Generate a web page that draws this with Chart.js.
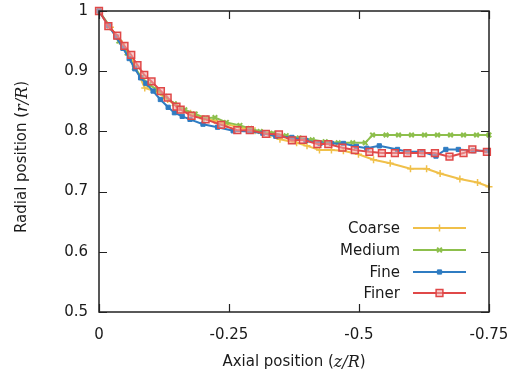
<!DOCTYPE html>
<html>
<head>
<meta charset="utf-8">
<script src="https://cdn.jsdelivr.net/npm/chart.js@4.4.1/dist/chart.umd.min.js"></script>
<style>
html,body{margin:0;padding:0;background:#fff;}
canvas{display:block;}
</style>
</head>
<body>
<canvas id="c" width="513" height="382"></canvas>
<script>
// ---- data ----
const seriesNames = ["Coarse", "Medium", "Fine", "Finer"];

const coarseX = [0, -0.022, -0.044, -0.066, -0.088, -0.110, -0.132, -0.154, -0.176, -0.200, -0.222, -0.246, -0.270, -0.300, -0.330, -0.348, -0.380, -0.400, -0.424, -0.447, -0.470, -0.499, -0.528, -0.560, -0.599, -0.630, -0.656, -0.694, -0.728, -0.750];
const coarseY = [1, 0.973, 0.946, 0.915, 0.872, 0.866, 0.853, 0.839, 0.830, 0.821, 0.818, 0.812, 0.807, 0.801, 0.795, 0.787, 0.781, 0.776, 0.769, 0.769, 0.768, 0.762, 0.753, 0.747, 0.738, 0.738, 0.730, 0.721, 0.715, 0.708];

const mediumX = [0, -0.020, -0.038, -0.054, -0.068, -0.082, -0.096, -0.112, -0.127, -0.145, -0.165, -0.185, -0.205, -0.223, -0.245, -0.271, -0.290, -0.310, -0.335, -0.360, -0.385, -0.410, -0.435, -0.460, -0.488, -0.512, -0.526, -0.552, -0.576, -0.601, -0.626, -0.651, -0.676, -0.701, -0.726, -0.750];
const mediumY = [1, 0.975, 0.950, 0.930, 0.906, 0.890, 0.878, 0.869, 0.858, 0.846, 0.836, 0.829, 0.822, 0.823, 0.815, 0.810, 0.805, 0.800, 0.797, 0.793, 0.789, 0.786, 0.783, 0.781, 0.781, 0.781, 0.794, 0.794, 0.794, 0.794, 0.794, 0.794, 0.794, 0.794, 0.794, 0.794];

const fineX = [0, -0.018, -0.033, -0.046, -0.058, -0.069, -0.080, -0.090, -0.104, -0.118, -0.133, -0.145, -0.160, -0.175, -0.200, -0.228, -0.258, -0.290, -0.315, -0.340, -0.371, -0.398, -0.425, -0.447, -0.470, -0.495, -0.515, -0.539, -0.574, -0.595, -0.622, -0.648, -0.667, -0.691, -0.720, -0.746];
const fineY = [1, 0.976, 0.957, 0.938, 0.921, 0.904, 0.889, 0.880, 0.867, 0.853, 0.840, 0.831, 0.825, 0.820, 0.812, 0.807, 0.801, 0.800, 0.797, 0.792, 0.790, 0.785, 0.780, 0.780, 0.780, 0.775, 0.772, 0.776, 0.770, 0.766, 0.766, 0.759, 0.770, 0.770, 0.768, 0.768];

const finerX = [0, -0.018, -0.035, -0.049, -0.062, -0.074, -0.087, -0.101, -0.119, -0.132, -0.149, -0.157, -0.178, -0.205, -0.235, -0.266, -0.290, -0.321, -0.346, -0.371, -0.392, -0.420, -0.441, -0.468, -0.492, -0.520, -0.544, -0.569, -0.593, -0.620, -0.646, -0.674, -0.701, -0.718, -0.746];
const finerY = [1, 0.975, 0.959, 0.942, 0.927, 0.910, 0.894, 0.883, 0.867, 0.856, 0.841, 0.836, 0.826, 0.820, 0.811, 0.802, 0.802, 0.796, 0.795, 0.785, 0.786, 0.779, 0.779, 0.773, 0.769, 0.766, 0.764, 0.764, 0.764, 0.764, 0.764, 0.758, 0.764, 0.770, 0.766];

const xTicks = [0, -0.25, -0.5, -0.75];
const xTickLabels = ["0", "-0.25", "-0.5", "-0.75"];
const yTicks = [0.5, 0.6, 0.7, 0.8, 0.9, 1];
const yTickLabels = ["0.5", "0.6", "0.7", "0.8", "0.9", "1"];

// ---- build ----
function pts(xs, ys){ return xs.map((x,i)=>({x:x, y:ys[i]})); }

const FONT = "'DejaVu Sans', sans-serif";
const TEXT = "#1a1a1a";

const styles = [
  {color:"#f0c04a", ps:"cross", r:3.5, bg:"#f0c04a", bw:1.5, order:4},
  {color:"#8dbf4c", ps:"crossRot", r:3.2, bg:"#8dbf4c", bw:2, order:3},
  {color:"#2f7cc2", ps:"rect", r:3, bg:"#2f7cc2", bw:1, order:2},
  {color:"#e04848", ps:"rect", r:4.8, bg:"rgba(240,170,170,0.55)", bw:1.5, order:1}
];
const dataSets = [pts(coarseX, coarseY), pts(mediumX, mediumY), pts(fineX, fineY), pts(finerX, finerY)];

const datasets = seriesNames.map((n,i)=>({
  label:n,
  data:dataSets[i],
  borderColor:styles[i].color,
  backgroundColor:styles[i].bg,
  pointBorderColor:styles[i].color,
  pointBackgroundColor:styles[i].bg,
  pointStyle:styles[i].ps,
  pointRadius:styles[i].r,
  pointBorderWidth:styles[i].bw,
  borderWidth:2,
  order:styles[i].order,
  tension:0,
  clip:false,
  showLine:true
}));

function drawMarker(ctx, st, x, y){
  ctx.save();
  ctx.strokeStyle = st.color; ctx.fillStyle = st.bg; ctx.lineWidth = st.bw;
  const r = st.r;
  ctx.beginPath();
  if (st.ps === "cross"){ ctx.moveTo(x-r,y); ctx.lineTo(x+r,y); ctx.moveTo(x,y-r); ctx.lineTo(x,y+r); ctx.stroke(); }
  else if (st.ps === "crossRot"){ const d=r*0.75; ctx.moveTo(x-d,y-d); ctx.lineTo(x+d,y+d); ctx.moveTo(x+d,y-d); ctx.lineTo(x-d,y+d); ctx.stroke(); }
  else { const s=r/Math.SQRT2; ctx.rect(x-s,y-s,2*s,2*s); ctx.fill(); ctx.stroke(); }
  ctx.restore();
}

const framePlugin = {
  id:"frame",
  afterDraw(chart){
    const {ctx, chartArea:a, scales} = chart;
    ctx.save();
    ctx.strokeStyle = "#222"; ctx.lineWidth = 1.5;
    ctx.strokeRect(a.left, a.top, a.right-a.left, a.bottom-a.top);
    ctx.lineWidth = 1.2;
    ctx.beginPath();
    xTicks.forEach(v=>{
      const px = Math.round(scales.x.getPixelForValue(v))+0.5;
      ctx.moveTo(px, a.bottom); ctx.lineTo(px, a.bottom-8);
      ctx.moveTo(px, a.top); ctx.lineTo(px, a.top+8);
    });
    yTicks.forEach(v=>{
      const py = Math.round(scales.y.getPixelForValue(v))+0.5;
      ctx.moveTo(a.left, py); ctx.lineTo(a.left+8, py);
      ctx.moveTo(a.right, py); ctx.lineTo(a.right-8, py);
    });
    ctx.stroke();
    ctx.restore();

    function mixed(parts, cx, cy, rot){
      ctx.save();
      ctx.translate(cx, cy); ctx.rotate(rot);
      ctx.fillStyle = TEXT; ctx.textBaseline = "middle"; ctx.textAlign = "left";
      let total = 0;
      parts.forEach(p=>{ ctx.font = p.f; p.w = ctx.measureText(p.t).width; total += p.w; });
      let x = -total/2;
      parts.forEach(p=>{ ctx.font = p.f; ctx.fillText(p.t, x, p.dy||0); x += p.w; });
      ctx.restore();
    }
    const sans = "15px " + FONT;
    const ital = "italic 16px 'DejaVu Serif', 'Liberation Serif', serif";
    mixed([{t:"Axial position (", f:sans},{t:"z/R", f:ital, dy:0.5},{t:")", f:sans}], 294, 362, 0);
    mixed([{t:"Radial position (", f:sans},{t:"r/R", f:ital, dy:0.5},{t:")", f:sans}], 22, 157, -Math.PI/2);

    ctx.save();
    ctx.font = "15px " + FONT; ctx.fillStyle = TEXT;
    ctx.textAlign = "right"; ctx.textBaseline = "middle";
    const ys = [228, 250, 272, 293];
    chart.data.datasets.forEach((ds,i)=>{
      const y = ys[i];
      ctx.fillText(ds.label, 400, y+1);
      ctx.strokeStyle = styles[i].color; ctx.lineWidth = 2;
      ctx.beginPath(); ctx.moveTo(413, y); ctx.lineTo(466, y); ctx.stroke();
      drawMarker(ctx, styles[i], 439.5, y);
    });
    ctx.restore();
  }
};

new Chart(document.getElementById("c"), {
  type:"scatter",
  data:{datasets},
  options:{
    responsive:false,
    animation:false,
    layout:{padding:{top:11, right:24, left:0, bottom:0}},
    plugins:{legend:{display:false}, tooltip:{enabled:false}},
    scales:{
      x:{
        type:"linear", min:-0.75, max:0, reverse:true,
        grid:{display:false, drawTicks:false},
        border:{display:false},
        afterBuildTicks(s){ s.ticks = xTicks.map(v=>({value:v})); },
        afterFit(s){ s.height = 70; s.paddingLeft = 0; s.paddingRight = 0; },
        ticks:{
          autoSkip:false, padding:14, color:TEXT, font:{family:FONT, size:15},
          maxRotation:0,
          callback(v){ const i = xTicks.indexOf(v); return i>=0 ? xTickLabels[i] : ""; }
        }
      },
      y:{
        type:"linear", min:0.5, max:1,
        grid:{display:false, drawTicks:false},
        border:{display:false},
        afterBuildTicks(s){ s.ticks = yTicks.map(v=>({value:v})); },
        afterFit(s){ s.width = 99; s.paddingTop = 0; s.paddingBottom = 0; },
        ticks:{
          autoSkip:false, padding:11, color:TEXT, font:{family:FONT, size:15},
          callback(v){ const i = yTicks.indexOf(v); return i>=0 ? yTickLabels[i] : ""; }
        }
      }
    }
  },
  plugins:[framePlugin]
});
</script>
</body>
</html>
